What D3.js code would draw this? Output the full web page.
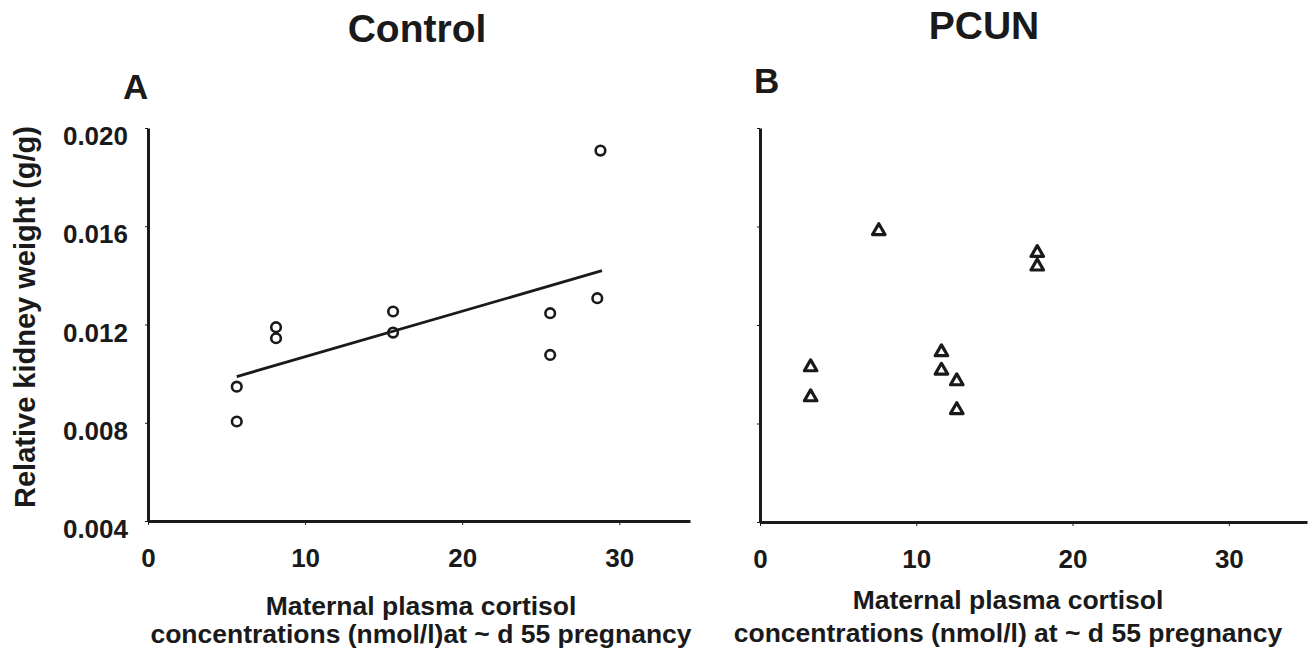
<!DOCTYPE html>
<html>
<head>
  <title>Relative kidney weight vs maternal cortisol</title>
  <script src="https://d3js.org/d3.v7.min.js"></script>
  <style>
    body { margin: 0; background: white; }
    svg { display: block; }
    text { font-family: "Liberation Sans", Arial, sans-serif; fill: #1a1a1a; }
    .axis path, .axis line { stroke: #1a1a1a; }
    .axis text { font-size: 26px; font-weight: bold; fill: #1a1a1a; }
    .title { font-size: 39px; font-weight: bold; text-anchor: middle; }
    .panel-letter { font-size: 35px; font-weight: bold; }
    .x-label { font-size: 26.5px; font-weight: bold; text-anchor: middle; }
    .y-label { font-size: 29px; font-weight: bold; text-anchor: middle; }
  </style>
</head>
<body>
<div id="chart"></div>
<script>
  // Control group: cortisol (nmol/l) and relative kidney weight (g/g)
  const controlCortisol = [5.65, 5.65, 8.15, 8.15, 15.6, 15.6, 25.6, 25.6, 28.6, 28.8];
  const controlKidney = [0.00947, 0.00805, 0.01189, 0.01144, 0.01253, 0.01167, 0.01246, 0.01076, 0.01307, 0.01908];

  // regression line for the control group, end points
  const fitCortisol = [5.65, 28.9];
  const fitKidney = [0.00988, 0.01419];

  // PCUN group
  const pcunCortisol = [7.6, 17.74, 17.74, 11.61, 11.61, 3.24, 3.24, 12.59, 12.59];
  const pcunKidney = [0.01582, 0.01493, 0.01438, 0.01090, 0.01015, 0.01029, 0.00907, 0.00972, 0.00855];

  const xTicks = [0, 10, 20, 30];
  const yTicks = [0.004, 0.008, 0.012, 0.016, 0.020];

  const W = 1312, H = 652;
  const svg = d3.select("#chart").append("svg")
    .attr("width", W)
    .attr("height", H);

  // scales for both panels
  const xA = d3.scaleLinear().domain([0, 34.5]).range([148, 690]);
  const yA = d3.scaleLinear().domain([0.004, 0.020]).range([521, 128]);
  const xB = d3.scaleLinear().domain([0, 35]).range([760, 1307]);
  const yB = d3.scaleLinear().domain([0.004, 0.020]).range([522, 128]);

  // draws the axes of one panel
  function drawAxes(x, y, showYLabels) {
    const gx = svg.append("g")
      .attr("class", "axis")
      .attr("transform", `translate(0,${y.range()[0]})`)
      .call(d3.axisBottom(x).tickValues(xTicks).tickSize(4).tickSizeOuter(0).tickPadding(24));
    gx.select(".domain").attr("stroke-width", 3);
    gx.selectAll(".tick line").attr("stroke-width", 1);

    const gy = svg.append("g")
      .attr("class", "axis")
      .attr("transform", `translate(${x.range()[0]},0)`)
      .call(d3.axisLeft(y).tickValues(yTicks).tickSize(3).tickSizeOuter(0).tickPadding(17)
        .tickFormat(showYLabels ? d3.format(".3f") : ""));
    gy.select(".domain").attr("stroke-width", 3);
    gy.selectAll(".tick line").attr("stroke-width", 1);
    gy.selectAll(".tick text").attr("dy", "0.64em");
  }

  drawAxes(xA, yA, true);
  drawAxes(xB, yB, false);

  // regression line in panel A
  const fitData = fitCortisol.map((c, i) => [c, fitKidney[i]]);
  svg.append("path")
    .datum(fitData)
    .attr("fill", "none")
    .attr("stroke", "#1a1a1a")
    .attr("stroke-width", 2.8)
    .attr("d", d3.line().x(d => xA(d[0])).y(d => yA(d[1])));

  // control points: open circles
  svg.selectAll(".ctrl")
    .data(controlCortisol.map((c, i) => [c, controlKidney[i]]))
    .join("circle")
    .attr("class", "ctrl")
    .attr("cx", d => xA(d[0]))
    .attr("cy", d => yA(d[1]))
    .attr("r", 4.8)
    .attr("fill", "none")
    .attr("stroke", "#1a1a1a")
    .attr("stroke-width", 2.6);

  // PCUN points: open triangles
  const tri = d3.symbol().type(d3.symbolTriangle).size(68);
  svg.selectAll(".pcun")
    .data(pcunCortisol.map((c, i) => [c, pcunKidney[i]]))
    .join("path")
    .attr("class", "pcun")
    .attr("transform", d => `translate(${xB(d[0])},${yB(d[1])})`)
    .attr("d", tri)
    .attr("fill", "white")
    .attr("stroke", "#1a1a1a")
    .attr("stroke-width", 3.2)
    .attr("stroke-linejoin", "round");

  // titles and panel letters
  svg.append("text").attr("class", "title").attr("x", 417).attr("y", 42).text("Control");
  svg.append("text").attr("class", "title").attr("x", 984).attr("y", 39).text("PCUN");
  svg.append("text").attr("class", "panel-letter").attr("x", 123).attr("y", 99).text("A");
  svg.append("text").attr("class", "panel-letter").attr("x", 754).attr("y", 93).text("B");

  // y axis label
  svg.append("text")
    .attr("class", "y-label")
    .attr("transform", "translate(35,317) rotate(-90)")
    .text("Relative kidney weight (g/g)");

  // x axis labels
  svg.append("text").attr("class", "x-label").attr("x", 421).attr("y", 615).text("Maternal plasma cortisol");
  svg.append("text").attr("class", "x-label").attr("x", 421).attr("y", 643).text("concentrations (nmol/l)at ~ d 55 pregnancy");
  svg.append("text").attr("class", "x-label").attr("x", 1008).attr("y", 609).text("Maternal plasma cortisol");
  svg.append("text").attr("class", "x-label").attr("x", 1008).attr("y", 642).text("concentrations (nmol/l) at ~ d 55 pregnancy");
</script>
</body>
</html>
